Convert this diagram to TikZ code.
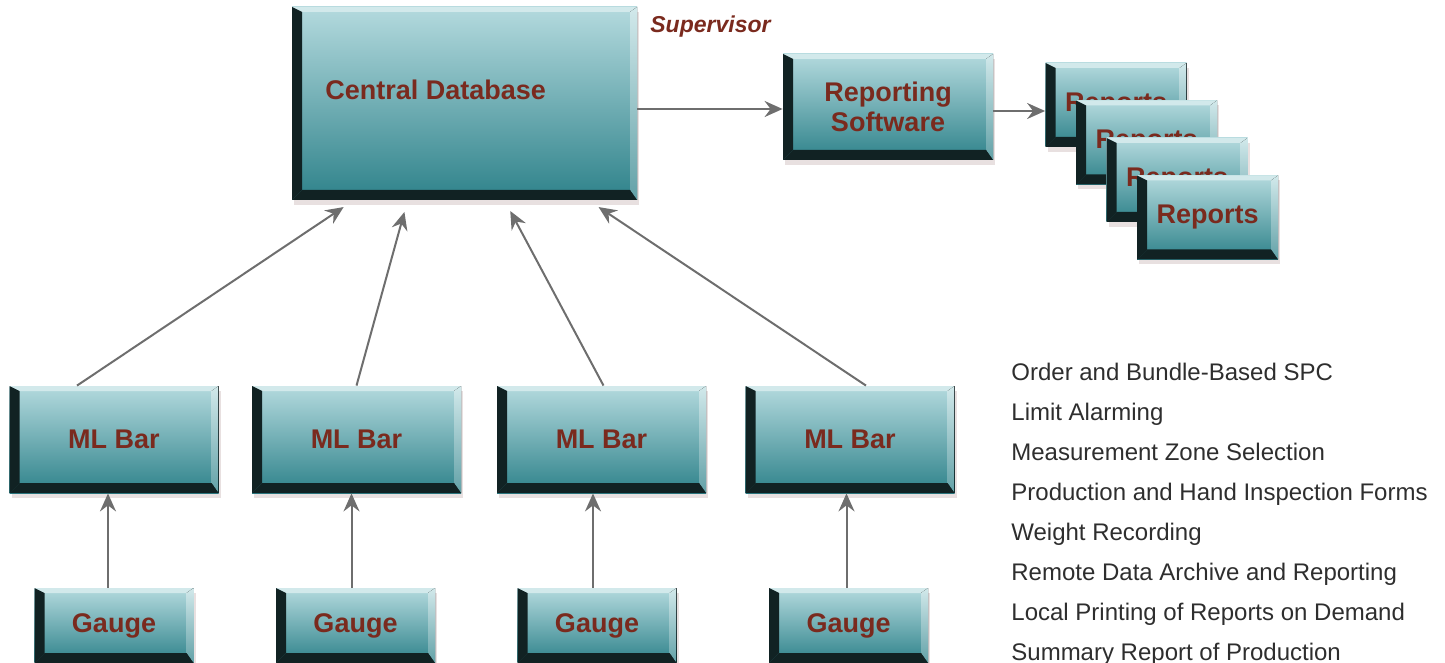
\documentclass[tikz,border=0pt]{standalone}
\usepackage{fontspec}
\setmainfont{Liberation Sans}
\usepackage{tikz}
\usetikzlibrary{arrows.meta,shadows}
\definecolor{facetop}{HTML}{B4DADE}
\definecolor{facebot}{HTML}{2E828A}
\definecolor{bevdark}{HTML}{112223}
\definecolor{bevlight}{HTML}{D2E9EB}
\definecolor{boxtext}{HTML}{7A2A1E}
\definecolor{wire}{HTML}{6E6E6E}
\definecolor{listtext}{HTML}{2E2E2E}
\definecolor{shade}{HTML}{B49A9A}

\tikzset{
  slab/.style={rectangle, inner sep=0pt, align=center,
    font=\fontsize{13.5}{15}\selectfont\bfseries, text=boxtext,
    top color=facetop, bottom color=facebot,
    drop shadow={shadow xshift=1pt, shadow yshift=-2.5pt, fill=shade, opacity=.3},
    path picture={
      \coordinate (nw) at (path picture bounding box.north west);
      \coordinate (ne) at (path picture bounding box.north east);
      \coordinate (sw) at (path picture bounding box.south west);
      \coordinate (se) at (path picture bounding box.south east);
      \fill[bevlight] (nw) -- (ne) -- ([shift={(-3.5pt,-2.5pt)}]ne) -- ([shift={(5pt,-2.5pt)}]nw) -- cycle;
      \fill[top color=bevlight, bottom color=facebot!75!white] (ne) -- (se) -- ([shift={(-3.5pt,5pt)}]se) -- ([shift={(-3.5pt,-2.5pt)}]ne) -- cycle;
      \fill[bevdark] (sw) -- (nw) -- ([shift={(5pt,-2.5pt)}]nw) -- ([shift={(5pt,5pt)}]sw) -- cycle;
      \fill[bevdark] (sw) -- (se) -- ([shift={(-3.5pt,5pt)}]se) -- ([shift={(5pt,5pt)}]sw) -- cycle;
    }},
  dbbox/.style={slab, minimum width=172.5pt, minimum height=96.5pt},
  swbox/.style={slab, minimum width=105pt, minimum height=53pt},
  repbox/.style={slab, minimum width=70.5pt, minimum height=42pt},
  barbox/.style={slab, minimum width=104.5pt, minimum height=53.5pt},
  gaugebox/.style={slab, minimum width=79.5pt, minimum height=37.5pt},
  slabtext/.style={inner sep=0pt, font=\fontsize{13.5}{15}\selectfont\bfseries, text=boxtext},
  feat/.style={inner sep=0pt, font=\fontsize{12}{14}\selectfont, text=listtext},
  link/.style={->, line width=1pt, wire}
}

\begin{document}
\begin{tikzpicture}[x=0.5pt, y=-0.5pt, >={Stealth[length=9pt, width=8pt, inset=3pt]}]
\useasboundingbox (0,0) rectangle (1445,663);

\node[dbbox] (db) at (464.5,103.5) {};
\node[slabtext, anchor=base west] (dbname) at (325,100) {Central Database};
\node[slabtext, font=\fontsize{11.5}{13}\selectfont\bfseries\itshape, anchor=base west] (sup) at (650,33) {Supervisor};

\node[swbox] (rsw) at (888,107) {Reporting\\Software};

\node[repbox] (rep1) at (1116,105) {Reports};
\node[repbox] (rep2) at (1146.5,142.5) {Reports};
\node[repbox] (rep3) at (1177,180) {Reports};
\node[repbox] (rep4) at (1207.5,217.5) {Reports};

\draw[link] ([yshift=-1pt]rsw.west -| db.east) -- ([yshift=-1pt]rsw.west);
\draw[link] ([yshift=-2pt]rsw.east) -- ([yshift=-2pt]rsw.east -| rep1.west);

\foreach \x [count=\i] in {114,356.5,601.5,850}
  \node[barbox] (bar\i) at (\x,439.5) {ML Bar};

\foreach \x [count=\i] in {114,355.5,597,848.5}
  \node[gaugebox] (gauge\i) at (\x,625.5) {Gauge};

\foreach \s [count=\i] in {-3pt,-2pt,-2pt,-1pt}
  \draw[link] ([xshift=\s]gauge\i.north) -- ([xshift=\s]gauge\i.north |- bar\i.south);

\draw[link, shorten >=6pt] ([xshift=-18.5pt]bar1.north) -- ([xshift=31pt]db.south west);
\draw[link, shorten >=6pt] (bar2.north) -- ([xshift=58pt]db.south west);
\draw[link, shorten >=6pt] ([xshift=1pt]bar3.north) -- ([xshift=106.5pt]db.south west);
\draw[link, shorten >=6pt] ([xshift=8pt]bar4.north) -- ([xshift=148.5pt]db.south west);

\foreach \txt [count=\i] in {Order and Bundle-Based SPC, Limit Alarming, Measurement Zone Selection,
    Production and Hand Inspection Forms, Weight Recording, Remote Data Archive and Reporting,
    Local Printing of Reports on Demand, Summary Report of Production}
  \node[feat, anchor=base west] (feat\i) at (1011,{340+40*\i}) {\txt};
\end{tikzpicture}
\end{document}
